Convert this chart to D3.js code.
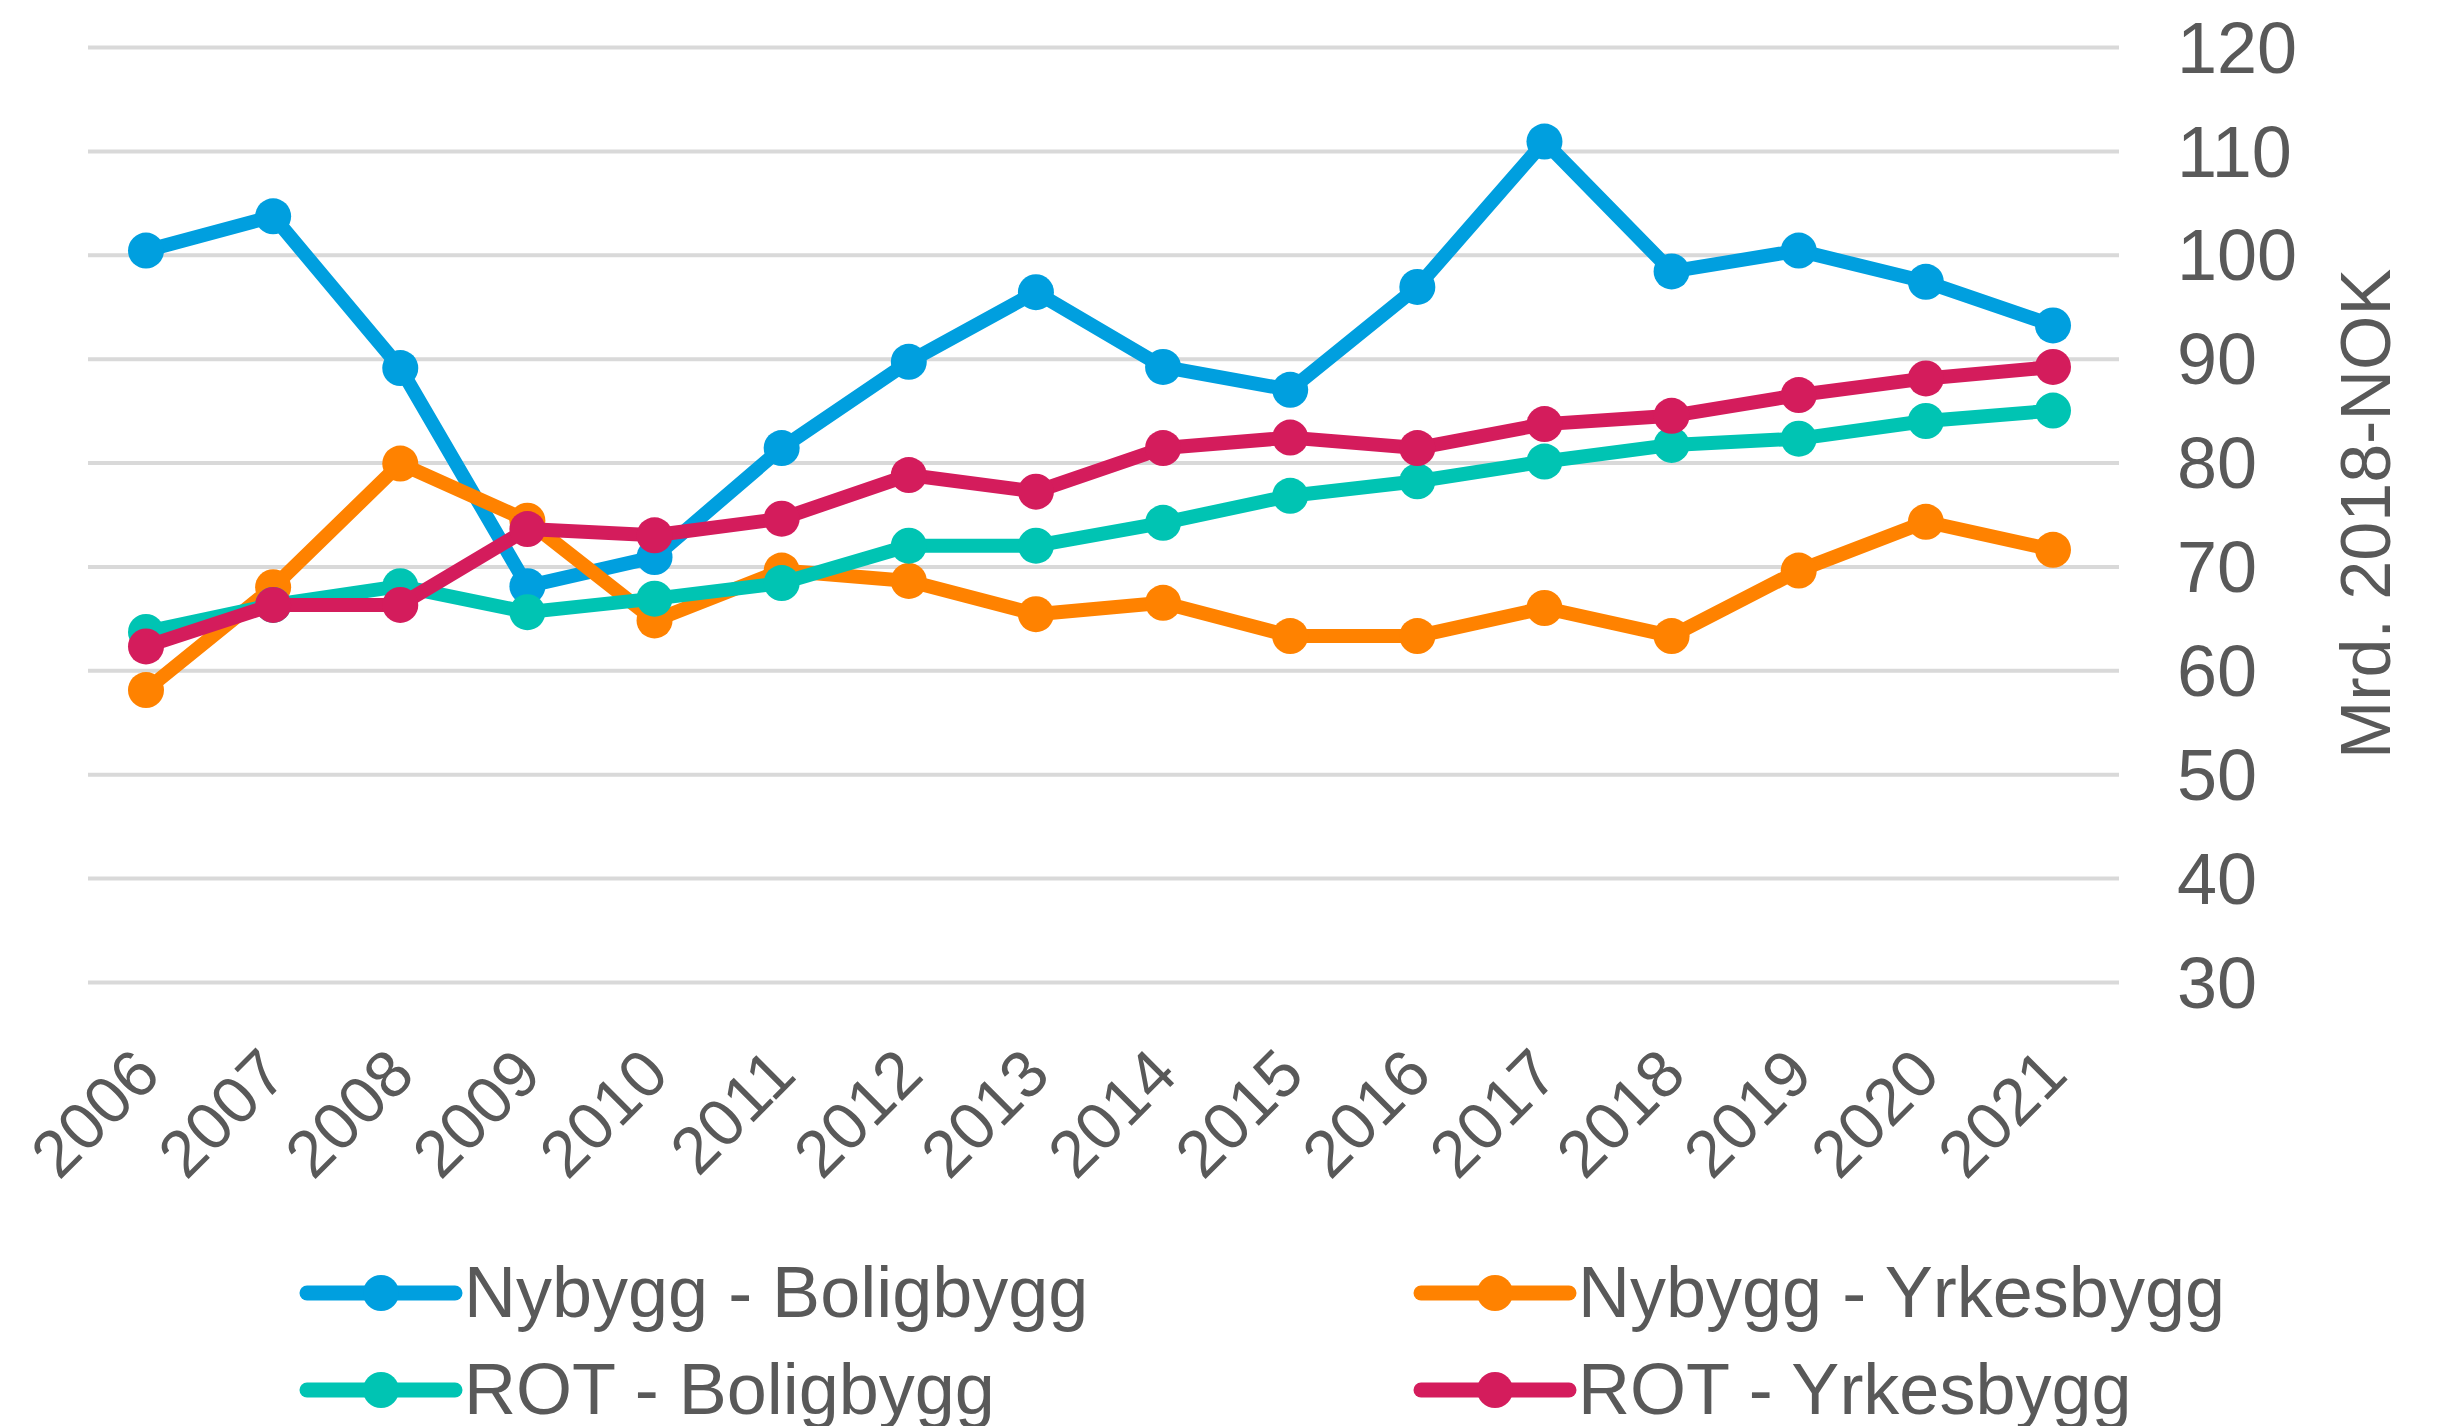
<!DOCTYPE html>
<html>
<head>
<meta charset="utf-8">
<script src="https://cdn.jsdelivr.net/npm/d3@7"></script>
<style>
  body { margin: 0; background: #fff; }
  svg text { font-family: "Liberation Sans", Arial, sans-serif; fill: #595959; }
</style>
</head>
<body>
<svg id="chart" width="2449" height="1426"></svg>
<script>
// data
var years = ["2006","2007","2008","2009","2010","2011","2012","2013","2014","2015","2016","2017","2018","2019","2020","2021"];
var nybyggBolig = [100.4,103.7,89.1,68.1,70.9,81.4,89.7,96.4,89.2,87.0,96.9,110.9,98.4,100.4,97.4,93.2];
var nybyggYrkes = [58.1,68.0,79.9,74.4,64.8,69.6,68.6,65.4,66.5,63.3,63.3,66.0,63.3,69.6,74.3,71.6];
var rotBolig    = [63.7,66.3,68.1,65.6,66.9,68.4,72.0,72.0,74.2,76.8,78.2,80.1,81.7,82.3,84.0,85.0];
var rotYrkes    = [62.3,66.3,66.3,73.6,73.0,74.6,78.8,77.2,81.4,82.4,81.4,83.7,84.5,86.5,88.1,89.2];
var yTicks = [30,40,50,60,70,80,90,100,110,120];
var seriesNames = ["Nybygg - Boligbygg","Nybygg - Yrkesbygg","ROT - Boligbygg","ROT - Yrkesbygg"];
var seriesColors = ["#009FDF","#FF8200","#00C4B3","#D41C5C"];
var axisTitle = "Mrd. 2018-NOK";

var series = [nybyggBolig, nybyggYrkes, rotBolig, rotYrkes].map(function(v,i){
  return {name: seriesNames[i], color: seriesColors[i], values: v};
});

var svg = d3.select("#chart");
var gridLeft = 88, gridRight = 2119;

var x = d3.scalePoint().domain(years).range([146, 2053]);
var y = d3.scaleLinear().domain([30,120]).range([982, 47]);

// gridlines + right side labels
var yAxis = svg.append("g")
  .attr("transform","translate("+gridLeft+",0)")
  .call(d3.axisRight(y).tickValues(yTicks).tickSize(gridRight-gridLeft).tickPadding(58));
yAxis.select(".domain").remove();
yAxis.selectAll("line").attr("stroke","#d9d9d9").attr("stroke-width",4);
yAxis.selectAll("text").attr("font-size",72).attr("dy","0.35em").style("fill","#595959");

// rotated year labels
var xAxis = svg.append("g")
  .attr("transform","translate(0,1061)")
  .call(d3.axisBottom(x).tickSize(0).tickPadding(0));
xAxis.select(".domain").remove();
xAxis.selectAll("text")
  .attr("y",0).attr("dy","0.35em")
  .attr("font-size",66)
  .attr("text-anchor","end")
  .attr("transform","rotate(-45)")
  .style("fill","#595959");

svg.append("text")
  .attr("transform","translate(2390,514) rotate(-90)")
  .attr("text-anchor","middle")
  .attr("font-size",70)
  .text(axisTitle);

var line = d3.line()
  .x(function(d,i){ return x(years[i]); })
  .y(function(d){ return y(d); });

var groups = svg.selectAll("g.series").data(series).enter().append("g").attr("class","series");
groups.append("path")
  .attr("d", function(d){ return line(d.values); })
  .attr("fill","none")
  .attr("stroke", function(d){ return d.color; })
  .attr("stroke-width",14)
  .attr("stroke-linejoin","round")
  .attr("stroke-linecap","round");
groups.selectAll("circle").data(function(d){ return d.values.map(function(v,i){ return {v:v,i:i,c:d.color}; }); })
  .enter().append("circle")
  .attr("cx", function(d){ return x(years[d.i]); })
  .attr("cy", function(d){ return y(d.v); })
  .attr("r",18)
  .attr("fill", function(d){ return d.c; });

// legend, 2 columns
var legend = svg.selectAll("g.leg").data(series).enter().append("g")
  .attr("class","leg")
  .attr("transform", function(d,i){ return "translate("+(307+(i%2)*1114)+","+(1293+Math.floor(i/2)*97)+")"; });
legend.append("line")
  .attr("x1",0).attr("x2",148).attr("y1",0).attr("y2",0)
  .attr("stroke", function(d){ return d.color; })
  .attr("stroke-width",15)
  .attr("stroke-linecap","round");
legend.append("circle").attr("cx",74).attr("cy",0).attr("r",18)
  .attr("fill", function(d){ return d.color; });
legend.append("text")
  .attr("x",157).attr("y",24)
  .attr("font-size",72)
  .text(function(d){ return d.name; });
</script>
</body>
</html>
